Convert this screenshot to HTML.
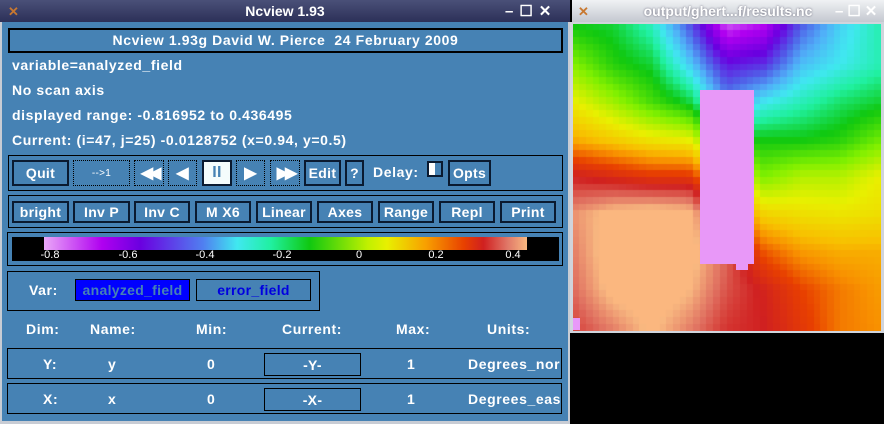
<!DOCTYPE html>
<html><head><meta charset="utf-8"><style>
*{box-sizing:border-box;margin:0;padding:0}
body{width:884px;height:424px;overflow:hidden;background:#000;position:relative;font-family:"Liberation Sans",sans-serif;font-size:14px;font-weight:bold;letter-spacing:0.6px;color:#fff}
.a{position:absolute}
.win{left:0;top:0;width:570px;height:424px;background:#4682b4;border-left:2px solid #c8ccd4;border-right:2px solid #c8ccd4}
.tb{left:0;top:0;width:570px;height:22px;background:linear-gradient(#4a5078,#2c3058);text-align:center;font-weight:bold;line-height:22px;font-size:14px;letter-spacing:0}
.tb2{left:572px;top:0;width:312px;height:22px;background:linear-gradient(#f0f2f4,#c4c8d0);text-align:center;font-weight:bold;line-height:22px;font-size:14px;color:#fff;text-shadow:0 0 2px #667;letter-spacing:0}
.fr{border:1px solid #000}
.btn{border:2px solid #0a1a30;text-align:center;color:#fff;font-size:14px;display:flex;align-items:center;justify-content:center;white-space:nowrap;letter-spacing:0.3px}
.dot{border:1px dotted #000}
.lbl{font-size:14px;white-space:nowrap}
.cl{position:absolute;top:12px;font-size:11px;font-weight:normal;letter-spacing:0;transform:translateX(-50%);color:#fff}
</style></head><body>
<div class="a win"></div>
<div class="a tb">Ncview 1.93</div>
<div class="a" style="left:8px;top:4px;font-size:13px;color:#c87830">✕</div>
<div class="a" style="left:505px;top:2px;font-size:15px;letter-spacing:6px">–☐✕</div>
<div class="a tb2">output/ghert...f/results.nc</div>
<div class="a" style="left:578px;top:4px;font-size:13px;color:#c87830">✕</div>
<div class="a" style="left:835px;top:2px;font-size:15px;letter-spacing:4px;color:#fff">–☐✕</div>

<div class="a fr" style="left:8px;top:28px;width:555px;height:25px;border-width:2px;text-align:center;line-height:21px;white-space:nowrap">Ncview 1.93g David W. Pierce&nbsp; 24 February 2009</div>
<div class="a lbl" style="left:12px;top:57px">variable=analyzed_field</div>
<div class="a lbl" style="left:12px;top:82px">No scan axis</div>
<div class="a lbl" style="left:12px;top:107px">displayed range: -0.816952 to 0.436495</div>
<div class="a lbl" style="left:12px;top:132px">Current: (i=47, j=25) -0.0128752 (x=0.94, y=0.5)</div>

<div class="a fr" style="left:8px;top:155px;width:555px;height:36px"></div>
<div class="a btn" style="left:12px;top:160px;width:57px;height:26px">Quit</div>
<div class="a btn dot" style="left:73px;top:160px;width:57px;height:26px;font-size:10px;font-weight:normal">--&gt;1</div>
<div class="a btn dot" style="left:134px;top:160px;width:30px;height:26px;font-size:16px;letter-spacing:-4px">◀◀</div>
<div class="a btn dot" style="left:168px;top:160px;width:29px;height:26px;font-size:16px">◀</div>
<div class="a btn" style="left:202px;top:160px;width:30px;height:26px;background:#f4fcfc;color:#4682b4;font-weight:bold;font-size:16px">II</div>
<div class="a btn dot" style="left:236px;top:160px;width:29px;height:26px;font-size:16px">▶</div>
<div class="a btn dot" style="left:270px;top:160px;width:30px;height:26px;font-size:16px;letter-spacing:-4px">▶▶</div>
<div class="a btn" style="left:304px;top:160px;width:37px;height:26px">Edit</div>
<div class="a btn" style="left:345px;top:160px;width:19px;height:26px">?</div>
<div class="a lbl" style="left:373px;top:164px">Delay:</div>
<div class="a" style="left:427px;top:161px;width:16px;height:16px;border:2px solid #0a1a30"><div style="width:6px;height:12px;background:#fff"></div></div>
<div class="a btn" style="left:448px;top:160px;width:43px;height:26px">Opts</div>

<div class="a fr" style="left:8px;top:195px;width:555px;height:33px"></div>
<div class="a btn" style="left:12px;top:201px;width:57px;height:22px">bright</div>
<div class="a btn" style="left:73px;top:201px;width:57px;height:22px">Inv P</div>
<div class="a btn" style="left:134px;top:201px;width:56px;height:22px">Inv C</div>
<div class="a btn" style="left:195px;top:201px;width:56px;height:22px">M X6</div>
<div class="a btn" style="left:256px;top:201px;width:56px;height:22px">Linear</div>
<div class="a btn" style="left:317px;top:201px;width:56px;height:22px">Axes</div>
<div class="a btn" style="left:378px;top:201px;width:56px;height:22px">Range</div>
<div class="a btn" style="left:439px;top:201px;width:56px;height:22px">Repl</div>
<div class="a btn" style="left:500px;top:201px;width:56px;height:22px">Print</div>

<div class="a fr" style="left:7px;top:232px;width:556px;height:34px"></div>
<div class="a" style="left:12px;top:237px;width:547px;height:24px;background:#000">
<div class="a" style="left:32px;top:0;width:483px;height:13px;background:linear-gradient(90deg,#eaa8f8 0%,#b000f0 12%,#6a00e0 20%,#5080f0 33%,#40e8f0 40%,#20f0a0 47%,#10c810 55%,#c0f000 67%,#e8f000 71%,#f8a000 79%,#e84000 87%,#d02020 91%,#e07868 96%,#f8b880 100%)"></div>
<span class="cl" style="left:38px">-0.8</span>
<span class="cl" style="left:116px">-0.6</span>
<span class="cl" style="left:193px">-0.4</span>
<span class="cl" style="left:270px">-0.2</span>
<span class="cl" style="left:347px">0</span>
<span class="cl" style="left:424px">0.2</span>
<span class="cl" style="left:501px">0.4</span>
</div>

<div class="a fr" style="left:7px;top:271px;width:313px;height:40px"></div>
<div class="a lbl" style="left:29px;top:282px">Var:</div>
<div class="a btn" style="left:75px;top:279px;width:115px;height:22px;background:#0000ff;color:#4682b4;border:1px solid #000">analyzed_field</div>
<div class="a btn" style="left:196px;top:279px;width:115px;height:22px;color:#0000e0;border:1px solid #000">error_field</div>

<div class="a lbl" style="left:26px;top:321px">Dim:</div>
<div class="a lbl" style="left:90px;top:321px">Name:</div>
<div class="a lbl" style="left:196px;top:321px">Min:</div>
<div class="a lbl" style="left:282px;top:321px">Current:</div>
<div class="a lbl" style="left:396px;top:321px">Max:</div>
<div class="a lbl" style="left:487px;top:321px">Units:</div>

<div class="a fr" style="left:7px;top:348px;width:555px;height:31px"></div>
<div class="a lbl" style="left:43px;top:356px">Y:</div>
<div class="a lbl" style="left:108px;top:356px">y</div>
<div class="a lbl" style="left:207px;top:356px">0</div>
<div class="a btn" style="left:264px;top:353px;width:97px;height:23px;border:1px solid #000">-Y-</div>
<div class="a lbl" style="left:407px;top:356px">1</div>
<div class="a lbl" style="left:468px;top:356px;width:92px;overflow:hidden">Degrees_north</div>

<div class="a fr" style="left:7px;top:383px;width:555px;height:31px"></div>
<div class="a lbl" style="left:43px;top:391px">X:</div>
<div class="a lbl" style="left:108px;top:391px">x</div>
<div class="a lbl" style="left:207px;top:391px">0</div>
<div class="a btn" style="left:264px;top:388px;width:97px;height:23px;border:1px solid #000">-X-</div>
<div class="a lbl" style="left:407px;top:391px">1</div>
<div class="a lbl" style="left:468px;top:391px;width:92px;overflow:hidden">Degrees_east</div>
<div class="a" style="left:0;top:421px;width:570px;height:3px;background:#c8ccd4"></div>

<div class="a" style="left:570px;top:22px;width:314px;height:311px;background:#d0d4dc"></div>
<canvas id="hm" class="a" style="left:573px;top:24px" width="308" height="307"></canvas>
<div class="a" style="left:700px;top:90px;width:54px;height:174px;background:#e898f8"></div>
<div class="a" style="left:736px;top:263px;width:12px;height:7px;background:#e898f8"></div>
<div class="a" style="left:573px;top:318px;width:7px;height:12px;background:#e898f8"></div>

<script>
const stopVals=[-0.816,-0.7,-0.6,-0.5,-0.42,-0.35,-0.28,-0.2,-0.1,0,0.08,0.13,0.2,0.28,0.36,0.436];
const stopCols=['#eaa8f8','#b000f0','#6a00e0','#5060e8','#50b0f8','#40e8f0','#20f0a0','#10c810','#80f000','#e8f000','#f8c000','#f89000','#e84000','#d02020','#e07060','#f8b880'];
// field values on a 9x9 grid (rows top to bottom)
const row0=[-0.2,-0.22,-0.3,-0.5,-0.75,-0.7,-0.5,-0.38,-0.3];
const row1=[-0.1,-0.18,-0.22,-0.38,-0.58,-0.55,-0.4,-0.35,-0.3];
const row2=[0,-0.07,-0.15,-0.22,-0.45,-0.35,-0.3,-0.25,-0.22];
const row3=[0.1,0.06,0.02,0,-0.2,-0.2,-0.2,-0.18,-0.12];
const row4=[0.28,0.25,0.22,0.22,0.05,-0.1,-0.05,-0.05,0];
const row5=[0.4,0.46,0.48,0.46,0.2,0.05,0.03,0.02,0.03];
const row6=[0.38,0.48,0.5,0.47,0.35,0.18,0.12,0.1,0.1];
const row7=[0.36,0.46,0.48,0.44,0.33,0.27,0.2,0.15,0.12];
const row8=[0.32,0.38,0.45,0.38,0.3,0.28,0.22,0.15,0.13];
const grid=[row0,row1,row2,row3,row4,row5,row6,row7,row8];
const nCols=46, nRows=46;
function hex(c){return [1,3,5].map(i=>parseInt(c.substr(i,2),16));}
function cmap(v){
  if(v<=stopVals[0])return stopCols[0];
  if(v>=stopVals[stopVals.length-1])return '#fbb77f';
  for(let i=0;i<stopVals.length-1;i++){
    if(v<=stopVals[i+1]){const t=(v-stopVals[i])/(stopVals[i+1]-stopVals[i]);const a=hex(stopCols[i]),b=hex(stopCols[i+1]);
      return 'rgb('+a.map((x,k)=>Math.round(x+(b[k]-x)*t)).join(',')+')';}
  }
}
function sample(u,w){
  const gx=u*8,gy=w*8;const i0=Math.min(7,Math.floor(gx)),j0=Math.min(7,Math.floor(gy));
  const tx=gx-i0,ty=gy-j0;
  const a=grid[j0][i0]*(1-tx)+grid[j0][i0+1]*tx;
  const b=grid[j0+1][i0]*(1-tx)+grid[j0+1][i0+1]*tx;
  return a*(1-ty)+b*ty;
}
const c=document.getElementById('hm').getContext('2d');
const cw=308/nCols, ch=307/nRows;
for(let j=0;j<nRows;j++)for(let i=0;i<nCols;i++){
  const u=i/(nCols-1),w=j/(nRows-1);
  c.fillStyle=cmap(sample(u,w));
  c.fillRect(Math.floor(i*cw),Math.floor(j*ch),Math.ceil(cw)+1,Math.ceil(ch)+1);
}
</script>
</body></html>
